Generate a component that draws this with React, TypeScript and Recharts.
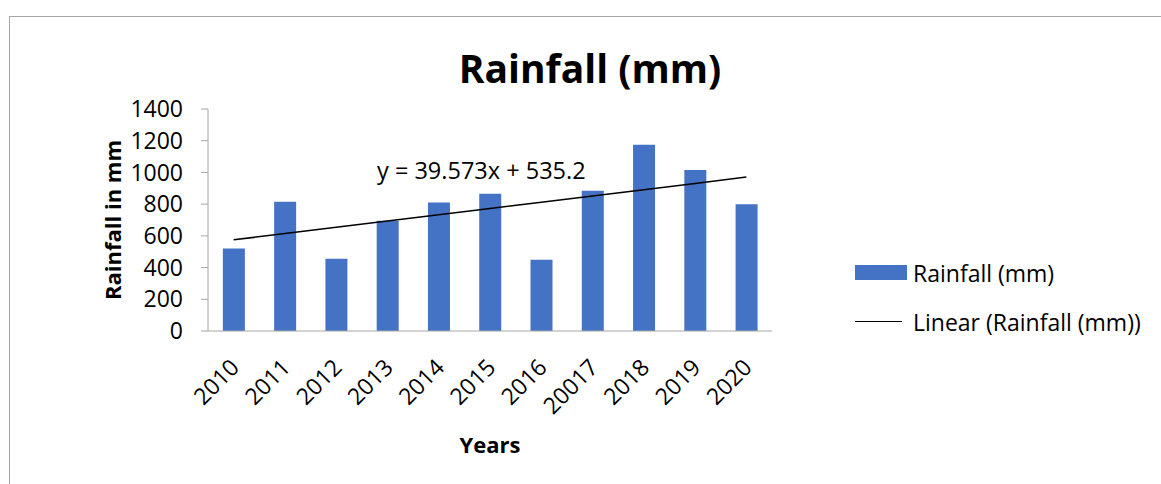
import { Bar, ComposedChart, Line, XAxis, YAxis } from "recharts"

const years = ["2010", "2011", "2012", "2013", "2014", "2015", "2016", "20017", "2018", "2019", "2020"]
const rainfall = [520, 815, 455, 695, 810, 865, 450, 885, 1175, 1015, 800]
const yTicks = [0, 200, 400, 600, 800, 1000, 1200, 1400]

// trendline equation as printed on the chart (x = 1..11)
const trendSlope = 39.573
const trendIntercept = 535.2

const barName = "Rainfall (mm)"
const trendName = "Linear (Rainfall (mm))"

const data = years.map((year, i) => ({
  year,
  rainfall: rainfall[i],
  trend: trendSlope * (i + 1) + trendIntercept,
}))

const font = "'Open Sans', sans-serif"
const axisGray = "#a6a6a6"
const barBlue = "#4472C4"

function YearTick({ x, y, payload }: any) {
  return (
    <g transform={`translate(${x + 7},${y + 30})`}>
      <text textAnchor="end" transform="rotate(-45)" fontSize={23} fontFamily={font} fill="#000">
        {payload.value}
      </text>
    </g>
  )
}

export default function App() {
  return (
    <div style={{ position: "absolute", left: 0, top: 0, width: 1161, height: 484, overflow: "hidden", background: "#fff" }}>
      <div style={{ position: "absolute", left: 9, top: 16, width: 1200, height: 520, border: `1px solid ${axisGray}` }} />
      <ComposedChart
        width={1161}
        height={484}
        data={data}
        margin={{ top: 109, right: 389, left: 0, bottom: 0 }}
        barCategoryGap="29%"
      >
        <XAxis
          dataKey="year"
          height={153}
          tickLine={false}
          stroke={axisGray}
          tick={<YearTick />}
          interval={0}
        />
        <YAxis
          width={208}
          domain={[0, 1400]}
          ticks={yTicks}
          interval={0}
          stroke={axisGray}
          tickSize={7}
          tickMargin={18}
          tick={{ fontSize: 23, fontFamily: font, fill: "#000" }}
        />
        <Bar dataKey="rainfall" name={barName} fill={barBlue} isAnimationActive={false} />
        <Line
          dataKey="trend"
          name={trendName}
          stroke="#000"
          strokeWidth={1.5}
          dot={false}
          activeDot={false}
          isAnimationActive={false}
        />
      </ComposedChart>
      <div style={{ position: "absolute", left: 855, top: 248, fontFamily: font, fontSize: 23, color: "#000" }}>
        <div style={{ display: "flex", alignItems: "center", height: 49 }}>
          <span style={{ width: 52, height: 15, background: barBlue, marginRight: 6 }} />
          {barName}
        </div>
        <div style={{ display: "flex", alignItems: "center", height: 49 }}>
          <span style={{ width: 47, height: 0, borderTop: "1.5px solid #000", marginRight: 11 }} />
          {trendName}
        </div>
      </div>
      <svg width={1161} height={484} style={{ position: "absolute", left: 0, top: 0, pointerEvents: "none" }}>
        <text x={590} y={83} textAnchor="middle" fontFamily={font} fontWeight="bold" fontSize={39} fill="#000">
          Rainfall (mm)
        </text>
        <text x={377} y={179} fontFamily={font} fontSize={23.5} fill="#000">
          y = 39.573x + 535.2
        </text>
        <text transform="translate(121,220) rotate(-90)" textAnchor="middle" fontFamily={font} fontWeight="bold" fontSize={22} fill="#000">
          Rainfall in mm
        </text>
        <text x={490} y={453} textAnchor="middle" fontFamily={font} fontWeight="bold" fontSize={22} fill="#000">
          Years
        </text>
      </svg>
    </div>
  )
}
